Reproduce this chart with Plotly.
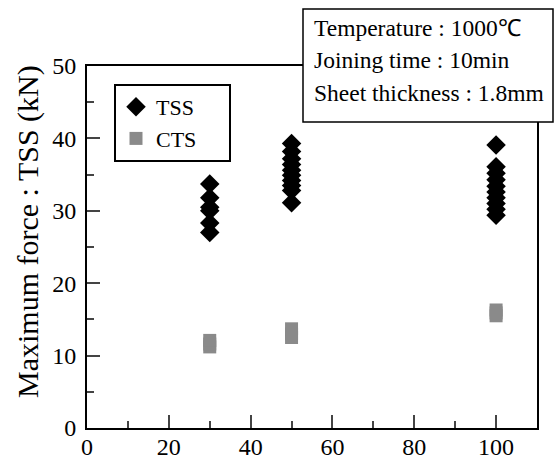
import plotly.graph_objects as go

# Data
tss_x = [30, 30, 30, 30, 30, 30,
         50, 50, 50, 50, 50, 50, 50, 50, 50, 50,
         100, 100, 100, 100, 100, 100, 100, 100, 100, 100]
tss_y = [33.7, 31.8, 30.5, 30.0, 28.3, 27.0,
         39.3, 38.2, 37.2, 36.4, 35.6, 34.9, 34.2, 33.5, 32.8, 31.1,
         39.1, 36.1, 35.2, 34.3, 33.4, 32.6, 31.8, 31.0, 30.2, 29.4]
cts_x = [30, 30, 30, 50, 50, 50, 100, 100, 100]
cts_y = [11.2, 11.6, 12.1, 12.5, 13.0, 13.7, 15.5, 15.9, 16.3]

info_lines = ["Temperature : 1000℃", "Joining time : 10min", "Sheet thickness : 1.8mm"]
y_title = "Maximum force : TSS (kN)"
legend_names = ["TSS", "CTS"]

FONT = "Liberation Serif"
PAD = "\u00a0" * 5

fig = go.Figure()
fig.add_trace(go.Scatter(x=tss_x, y=tss_y, mode="markers", name=legend_names[0] + PAD,
                         marker=dict(symbol="diamond", size=15, color="black")))
fig.add_trace(go.Scatter(x=cts_x, y=cts_y, mode="markers", name=legend_names[1] + PAD,
                         marker=dict(symbol="square", size=13, color="#8a8a8a")))

L, R, T, B = 87, 18, 66, 31
W, H = 555, 459
pw, ph = W - L - R, H - T - B

def px(xp):
    return (xp - L) / pw

def py(yp):
    return (H - B - yp) / ph

tickfont = dict(family=FONT, size=24, color="black")

fig.update_layout(
    width=W, height=H,
    margin=dict(l=L, r=R, t=T, b=B, autoexpand=False),
    paper_bgcolor="white", plot_bgcolor="white",
    font=dict(family=FONT, size=23, color="black"),
    showlegend=True,
    legend=dict(x=px(114), y=py(84), xanchor="left", yanchor="top",
                bordercolor="black", borderwidth=2, bgcolor="white",
                font=dict(size=22, family=FONT), tracegroupgap=0,
                itemsizing="trace"),
    xaxis=dict(range=[0, 110], dtick=20, tick0=0, ticks="inside", ticklen=13,
               tickwidth=2, showline=True, linewidth=2, linecolor="black",
               mirror=True, showgrid=False, zeroline=False, automargin=False,
               ticklabelstandoff=-4, tickfont=tickfont,
               minor=dict(dtick=10, ticks="inside", ticklen=7, tickwidth=2,
                          showgrid=False)),
    yaxis=dict(range=[0, 50], dtick=10, tick0=0, ticks="inside", ticklen=13,
               tickwidth=2, showline=True, linewidth=2, linecolor="black",
               mirror=True, showgrid=False, zeroline=False, automargin=False,
               ticklabelstandoff=4, tickfont=tickfont,
               minor=dict(dtick=5, ticks="inside", ticklen=7, tickwidth=2,
                          showgrid=False)),
)

# y-axis title as rotated annotation
fig.add_annotation(text=y_title, xref="paper", yref="paper", x=px(28), y=py(232),
                   xanchor="center", yanchor="middle", textangle=-90, showarrow=False,
                   font=dict(size=30, family=FONT))

# info box
fig.add_shape(type="rect", xref="paper", yref="paper",
              x0=px(303), x1=px(553), y0=py(122), y1=py(9),
              line=dict(color="black", width=1.5), fillcolor="white", layer="above")
for txt, yp in zip(info_lines, [28, 60, 93]):
    fig.add_annotation(text=txt, xref="paper", yref="paper", x=px(312), y=py(yp),
                       xanchor="left", yanchor="middle", showarrow=False,
                       font=dict(size=23.5, family=FONT))

fig.write_html("out.html", config={"displayModeBar": False},
               post_script="document.body.style.margin='0';document.body.style.padding='0';")
